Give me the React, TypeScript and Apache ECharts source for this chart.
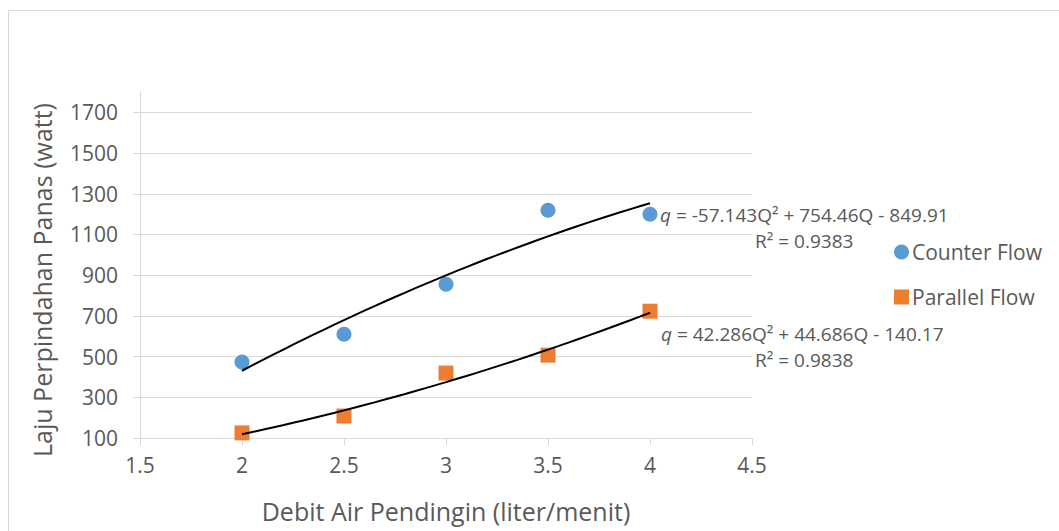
import React, { useEffect, useRef } from "react";
import * as echarts from "echarts";

const xFlow = [2, 2.5, 3, 3.5, 4];
const counterFlow = [473, 610, 856, 1219, 1199];
const parallelFlow = [125, 208, 419, 507, 723];
// trendline coefficients [a, b, c] for q = aQ^2 + bQ + c (from the chart)
const counterCoef = [-57.143, 754.46, -849.91];
const parallelCoef = [42.286, 44.686, -140.17];
const counterEq = ["q", " = -57.143Q² + 754.46Q - 849.91", "R² = 0.9383"];
const parallelEq = ["q", " = 42.286Q² + 44.686Q - 140.17", "R² = 0.9838"];
const seriesNames = ["Counter Flow", "Parallel Flow"];
const xTitle = "Debit Air Pendingin (liter/menit)";
const yTitle = "Laju Perpindahan Panas (watt)";

const FONT = "'Open Sans', sans-serif";
const TXT = "#595959";
const GRID = "#d9d9d9";

function trend(coef: number[]) {
  const pts: number[][] = [];
  const steps = 40;
  const x0 = xFlow[0];
  const x1 = xFlow[xFlow.length - 1];
  for (let i = 0; i <= steps; i++) {
    const x = x0 + ((x1 - x0) * i) / steps;
    pts.push([x, coef[0] * x * x + coef[1] * x + coef[2]]);
  }
  return pts;
}

export default function App() {
  const ref = useRef<HTMLDivElement>(null);
  useEffect(() => {
    if (!ref.current) return;
    const chart = echarts.init(ref.current, null, { renderer: "svg" });
    chart.setOption({
      animation: false,
      backgroundColor: "#ffffff",
      textStyle: { fontFamily: FONT },
      grid: { left: 140, right: 307, top: 92, bottom: 93, containLabel: false },
      xAxis: {
        type: "value",
        min: 1.5,
        max: 4.5,
        interval: 0.5,
        axisLine: { show: true, lineStyle: { color: GRID, width: 1 } },
        axisTick: { show: true, length: 7, lineStyle: { color: GRID } },
        splitLine: { show: false },
        axisLabel: { color: TXT, fontSize: 21, fontFamily: FONT, margin: 16 },
      },
      yAxis: {
        type: "value",
        min: 100,
        max: 1800,
        interval: 200,
        axisLine: { show: true, lineStyle: { color: GRID, width: 1 } },
        axisTick: { show: true, length: 7, lineStyle: { color: GRID } },
        splitLine: { show: true, showMaxLine: false, lineStyle: { color: GRID, width: 1 } },
        axisLabel: {
          color: TXT,
          fontSize: 21,
          fontFamily: FONT,
          margin: 22,
          showMaxLabel: false,
          formatter: (v: number) => String(v),
        },
      },
      legend: {
        data: [
          { name: seriesNames[0], icon: "circle" },
          { name: seriesNames[1], icon: "rect" },
        ],
        orient: "vertical",
        left: 889,
        top: 236,
        itemWidth: 15,
        itemHeight: 15,
        itemGap: 23,
        itemStyle: { opacity: 1 },
        textStyle: { color: TXT, fontSize: 21, lineHeight: 22, fontFamily: FONT, padding: [0, 0, 0, -2] },
      },
      series: [
        {
          name: seriesNames[0],
          type: "scatter",
          symbol: "circle",
          symbolSize: 15,
          itemStyle: { color: "#5B9BD5", opacity: 1 },
          data: xFlow.map((x, i) => [x, counterFlow[i]]),
          z: 3,
        },
        {
          name: seriesNames[1],
          type: "scatter",
          symbol: "rect",
          symbolSize: 15,
          itemStyle: { color: "#ED7D31", opacity: 1 },
          data: xFlow.map((x, i) => [x, parallelFlow[i]]),
          z: 3,
        },
        {
          name: "trend1",
          type: "line",
          data: trend(counterCoef),
          showSymbol: false,
          symbol: "none",
          smooth: false,
          lineStyle: { color: "#000000", width: 2 },
          z: 4,
        },
        {
          name: "trend2",
          type: "line",
          data: trend(parallelCoef),
          showSymbol: false,
          symbol: "none",
          smooth: false,
          lineStyle: { color: "#000000", width: 2 },
          z: 4,
        },
      ],
      graphic: [
        {
          type: "rect",
          shape: { x: 8.5, y: 10.5, width: 1200, height: 700 },
          style: { fill: "none", stroke: GRID, lineWidth: 1 },
          silent: true,
          z: -10,
        },
        {
          type: "text",
          x: 42,
          y: 280,
          rotation: Math.PI / 2,
          style: {
            text: yTitle,
            fill: TXT,
            font: `25px ${FONT}`,
            align: "center",
            verticalAlign: "middle",
          },
        },
        {
          type: "text",
          x: 446,
          y: 511,
          style: {
            text: xTitle,
            fill: TXT,
            font: `25px ${FONT}`,
            align: "center",
            verticalAlign: "middle",
          },
        },
        {
          type: "text",
          x: 660,
          y: 215,
          style: {
            text: `{i|${counterEq[0]}}{n|${counterEq[1]}}`,
            verticalAlign: "middle",
            rich: {
              i: { fill: TXT, font: `italic 19px ${FONT}` },
              n: { fill: TXT, font: `19px ${FONT}` },
            },
          },
        },
        {
          type: "text",
          x: 755,
          y: 241,
          style: { text: counterEq[2], fill: TXT, font: `19px ${FONT}`, verticalAlign: "middle" },
        },
        {
          type: "text",
          x: 661,
          y: 334,
          style: {
            text: `{i|${parallelEq[0]}}{n|${parallelEq[1]}}`,
            verticalAlign: "middle",
            rich: {
              i: { fill: TXT, font: `italic 19px ${FONT}` },
              n: { fill: TXT, font: `19px ${FONT}` },
            },
          },
        },
        {
          type: "text",
          x: 755,
          y: 360,
          style: { text: parallelEq[2], fill: TXT, font: `19px ${FONT}`, verticalAlign: "middle" },
        },
      ],
    });
    return () => chart.dispose();
  }, []);
  return (
    <div
      ref={ref}
      style={{ position: "fixed", left: 0, top: 0, width: 1059, height: 531, background: "#fff" }}
    />
  );
}
